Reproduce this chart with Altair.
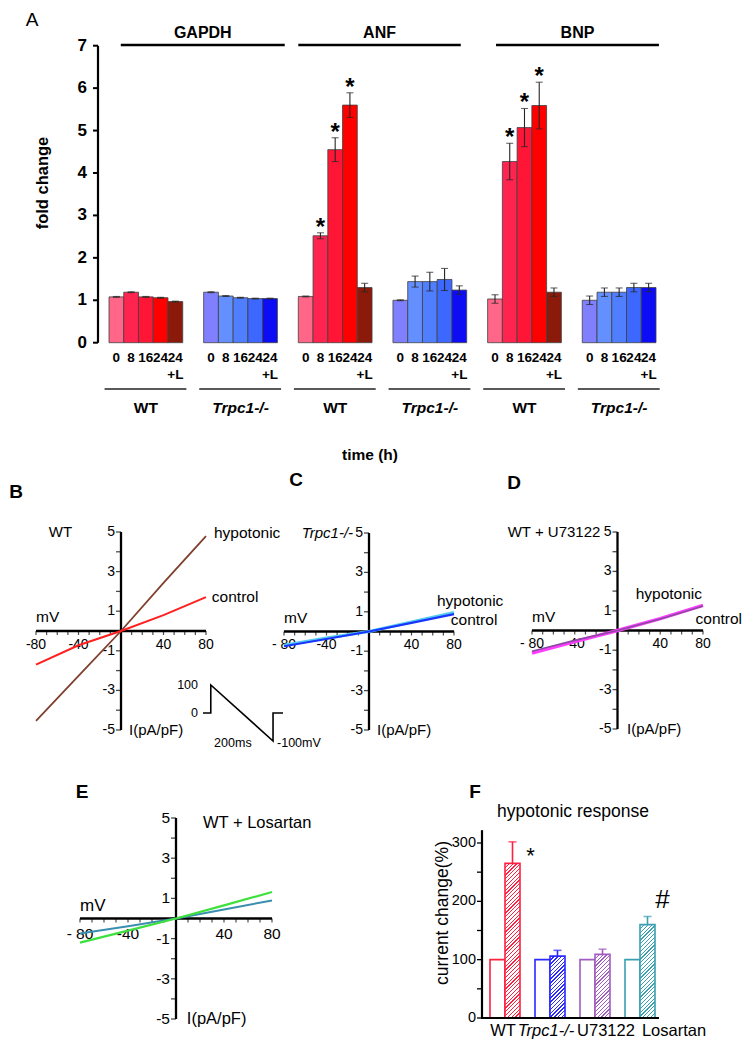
import altair as alt
import pandas as pd

OX, OY = 8, 8
W, H = 739, 1034
FONT = "Liberation Sans"


def px(v):
    return v - OX


def py(v):
    return v - OY


def lin(domain, rng):
    return alt.Scale(domain=domain, range=rng, nice=False, zero=False)


# ------------------------------------------------------------------ data
# Panel A : fold change of GAPDH / ANF / BNP
genes = ["GAPDH", "ANF", "BNP"]
genotypes = ["WT", "Trpc1-/-"]
times = ["0", "8", "16", "24", "24+L"]

gapdh_wt = [1.08, 1.19, 1.08, 1.06, 0.97]
gapdh_wt_err = [0.01, 0.01, 0.01, 0.01, 0.01]
gapdh_ko = [1.19, 1.10, 1.06, 1.04, 1.04]
gapdh_ko_err = [0.01, 0.01, 0.01, 0.01, 0.01]
anf_wt = [1.09, 2.52, 4.55, 5.60, 1.30]
anf_wt_err = [0.01, 0.07, 0.28, 0.29, 0.10]
anf_ko = [1.00, 1.44, 1.44, 1.49, 1.24]
anf_ko_err = [0.01, 0.13, 0.22, 0.26, 0.10]
bnp_wt = [1.03, 4.27, 5.07, 5.59, 1.19]
bnp_wt_err = [0.10, 0.43, 0.45, 0.55, 0.10]
bnp_ko = [1.00, 1.19, 1.19, 1.30, 1.30]
bnp_ko_err = [0.10, 0.10, 0.10, 0.10, 0.10]
sig_anf_wt = [0, 1, 1, 1, 0]
sig_bnp_wt = [0, 1, 1, 1, 0]

# Panels B-E : I-V curves, sampled at these voltages (mV)
mv_points = [-80, -40, 0, 40, 80]
b_hypotonic = [-4.54, -2.27, 0, 2.43, 4.79]
b_control = [-1.70, -0.72, 0, 0.80, 1.71]
c_hypotonic = [-0.70, -0.33, 0, 0.48, 0.97]
c_control = [-0.75, -0.38, 0, 0.44, 0.88]
d_hypotonic = [-1.15, -0.56, 0, 0.60, 1.28]
d_control = [-1.05, -0.50, 0, 0.58, 1.24]
e_hypotonic = [-1.20, -0.60, 0, 0.65, 1.32]
e_control = [-0.75, -0.38, 0, 0.45, 0.90]

# voltage protocol (inset of B)
proto_ms = [-25, 0, 0, 200, 200, 232]
proto_mv = [0, 0, 100, -100, 0, 0]

# Panel F : hypotonic response
groups_f = ["WT", "Trpc1-/-", "U73122", "Losartan"]
control_pct = [100, 100, 100, 100]
hypo_pct = [265, 106, 109, 160]
hypo_err = [37, 10, 9, 14]

# ------------------------------------------------------------------ styles
wt_colors = ["#ff6688", "#ff2450", "#ff1535", "#ff0000", "#8c1a0a"]
ko_colors = ["#8080ff", "#6490ff", "#4f7fff", "#3d68ff", "#0c0cf5"]
f_colors = ["#ff2040", "#2a2aff", "#a05cc0", "#3aa0b0"]

layers = []


def note(text, x, y, size, weight="normal", style="normal", angle=0,
         align="center", baseline="middle", color="black"):
    return alt.Chart(pd.DataFrame({"txt": [text]})).mark_text(
        font=FONT, fontSize=size, fontWeight=weight, fontStyle=style,
        angle=angle, align=align, baseline=baseline, color=color
    ).encode(x=alt.value(px(x)), y=alt.value(py(y)), text="txt:N")


# ------------------------------------------------------------------ panel A
GAP = 1.42
STEP = 5 + GAP
SPAN = 5 * STEP + 5
AX = lin([0, SPAN], [px(109), px(656)])
AY = lin([0, 7], [py(342.7), py(45.7)])

series_a = {
    ("GAPDH", "WT"): (gapdh_wt, gapdh_wt_err, [0] * 5),
    ("GAPDH", "Trpc1-/-"): (gapdh_ko, gapdh_ko_err, [0] * 5),
    ("ANF", "WT"): (anf_wt, anf_wt_err, sig_anf_wt),
    ("ANF", "Trpc1-/-"): (anf_ko, anf_ko_err, [0] * 5),
    ("BNP", "WT"): (bnp_wt, bnp_wt_err, sig_bnp_wt),
    ("BNP", "Trpc1-/-"): (bnp_ko, bnp_ko_err, [0] * 5),
}
rows, grows = [], []
for gi, gene in enumerate(genes):
    for ki, geno in enumerate(genotypes):
        g = gi * 2 + ki
        vals, errs, sig = series_a[(gene, geno)]
        for i, tm in enumerate(times):
            x0 = g * STEP + i
            rows.append(dict(gene=gene, geno=geno, tm=tm, key=f"{geno}|{tm}",
                             value=vals[i], lo=vals[i] - errs[i],
                             hi=vals[i] + errs[i], x0=x0, x1=x0 + 1,
                             xc=x0 + 0.5, star=sig[i], base=0,
                             tl=tm.replace("+L", "")))
        grows.append(dict(geno=geno, us=g * STEP - 0.3, ue=g * STEP + 5.25,
                          gc=g * STEP + 2.5))
dfA = pd.DataFrame(rows)
dfG = pd.DataFrame(grows)
keys = [f"WT|{tm}" for tm in times] + [f"Trpc1-/-|{tm}" for tm in times]

xA = alt.X("x0:Q", scale=AX, axis=None)
layers.append(alt.Chart(dfA).mark_rect(stroke="#404040", strokeWidth=0.8).encode(
    x=xA, x2="x1:Q",
    y=alt.Y("value:Q", scale=AY, axis=None), y2="base:Q",
    fill=alt.Fill("key:N", scale=alt.Scale(domain=keys, range=wt_colors + ko_colors),
                  legend=None)))
layers.append(alt.Chart(dfA).mark_rule(color="#262626", strokeWidth=1.1).encode(
    x=alt.X("xc:Q", scale=AX, axis=None),
    y=alt.Y("lo:Q", scale=AY, axis=None), y2="hi:Q"))
capsA = pd.concat([dfA[["xc"]].assign(yv=dfA["lo"]), dfA[["xc"]].assign(yv=dfA["hi"])])
layers.append(alt.Chart(capsA).mark_tick(orient="horizontal", size=7, thickness=1.1,
                                         color="#262626").encode(
    x=alt.X("xc:Q", scale=AX, axis=None), y=alt.Y("yv:Q", scale=AY, axis=None)))
layers.append(alt.Chart(dfA[dfA["star"] == 1]).mark_text(
    text="*", font=FONT, fontSize=24, fontWeight="bold", baseline="alphabetic", dy=2
).encode(x=alt.X("xc:Q", scale=AX, axis=None), y=alt.Y("hi:Q", scale=AY, axis=None)))

# y axis of A
layers.append(alt.Chart(pd.DataFrame({"lo": [0], "hi": [7]})).mark_rule(
    color="black", strokeWidth=2.2).encode(
    x=alt.value(px(98)), y=alt.Y("lo:Q", scale=AY, axis=None), y2="hi:Q"))
ticksA = pd.DataFrame({"v": list(range(8)), "lbl": [str(v) for v in range(8)]})
layers.append(alt.Chart(ticksA).mark_rule(color="black", strokeWidth=2).encode(
    x=alt.value(px(93)), x2=alt.value(px(98)), y=alt.Y("v:Q", scale=AY, axis=None)))
layers.append(alt.Chart(ticksA).mark_text(
    font=FONT, fontSize=17, fontWeight="bold", align="right", baseline="middle").encode(
    x=alt.value(px(87)), y=alt.Y("v:Q", scale=AY, axis=None), text="lbl:N"))

# gene headers
hdr_pad = [(0.8, 0.5), (0.0, -0.4), (0.57, 0.2)]
hdr = []
for gi, gene in enumerate(genes):
    s = (gi * 2) * STEP + hdr_pad[gi][0]
    e = (gi * 2 + 1) * STEP + 5 + hdr_pad[gi][1]
    hdr.append(dict(gene=gene, hs=s, he=e, hc=(s + e) / 2))
dfH = pd.DataFrame(hdr)
layers.append(alt.Chart(dfH).mark_rule(color="black", strokeWidth=2.6).encode(
    x=alt.X("hs:Q", scale=AX, axis=None), x2="he:Q", y=alt.value(py(45))))
layers.append(alt.Chart(dfH).mark_text(font=FONT, fontSize=16, fontWeight="bold").encode(
    x=alt.X("hc:Q", scale=AX, axis=None), y=alt.value(py(32.5)), text="gene:N"))

# time tick labels
layers.append(alt.Chart(dfA).mark_text(font=FONT, fontSize=13.5, fontWeight="bold").encode(
    x=alt.X("xc:Q", scale=AX, axis=None), y=alt.value(py(358)), text="tl:N"))
layers.append(alt.Chart(dfA[dfA["tm"] == "24+L"]).mark_text(
    font=FONT, fontSize=13.5, fontWeight="bold", text="+L").encode(
    x=alt.X("xc:Q", scale=AX, axis=None), y=alt.value(py(375))))
layers.append(alt.Chart(dfG).mark_rule(color="#222222", strokeWidth=1.4).encode(
    x=alt.X("us:Q", scale=AX, axis=None), x2="ue:Q", y=alt.value(py(389))))
layers.append(alt.Chart(dfG[dfG["geno"] == "WT"]).mark_text(
    font=FONT, fontSize=15.5, fontWeight="bold").encode(
    x=alt.X("gc:Q", scale=AX, axis=None), y=alt.value(py(408)), text="geno:N"))
layers.append(alt.Chart(dfG[dfG["geno"] != "WT"]).mark_text(
    font=FONT, fontSize=15.5, fontWeight="bold", fontStyle="italic").encode(
    x=alt.X("gc:Q", scale=AX, axis=None), y=alt.value(py(408)), text="geno:N"))

layers.append(note("A", 32, 20, 19))
layers.append(note("fold change", 43, 183, 16.5, weight="bold", angle=270))
layers.append(note("time (h)", 370, 455, 15.5, weight="bold"))


# ------------------------------------------------------------------ I-V panels
def iv_panel(cfg):
    xs = lin([-80, 80], [px(cfg["x0"]), px(cfg["x1"])])
    ys = lin([-5, 5], [py(cfg["yb"]), py(cfg["yt"])])

    def X(f):
        return alt.X(f, scale=xs, axis=None)

    def Y(f):
        return alt.Y(f, scale=ys, axis=None)

    out = []
    ax = pd.DataFrame({"a": [-80], "b": [80], "lo": [-5], "hi": [5], "z": [0]})
    out.append(alt.Chart(ax).mark_rule(color="black", strokeWidth=2.3).encode(
        x=X("a:Q"), x2="b:Q", y=Y("z:Q")))
    out.append(alt.Chart(ax).mark_rule(color="black", strokeWidth=2.3).encode(
        x=X("z:Q"), y=Y("lo:Q"), y2="hi:Q"))
    yt = pd.DataFrame({"v": list(range(-5, 6)), "z": 0})
    out.append(alt.Chart(yt).mark_tick(orient="horizontal", size=5, thickness=1.3,
                                       xOffset=-2.5, color="black").encode(
        x=X("z:Q"), y=Y("v:Q")))
    xt = pd.DataFrame({"v": list(range(-80, 81, 10)), "z": 0})
    out.append(alt.Chart(xt).mark_tick(orient="vertical", size=4, thickness=1.2,
                                       yOffset=2, color="black").encode(
        x=X("v:Q"), y=Y("z:Q")))
    yl = pd.DataFrame({"v": [5, 3, 1, -1, -3, -5], "z": 0,
                       "lbl": ["5", "3", "1", "-1", "-3", "-5"]})
    out.append(alt.Chart(yl).mark_text(font=FONT, fontSize=cfg["fs"], align="right",
                                       baseline="middle", dx=-6).encode(
        x=X("z:Q"), y=Y("v:Q"), text="lbl:N"))
    xl = pd.DataFrame({"v": [-80, -40, 40, 80], "z": 0, "lbl": cfg["xlabels"]})
    out.append(alt.Chart(xl).mark_text(font=FONT, fontSize=cfg["fs"], align="center",
                                       baseline="middle", dy=cfg["fs"] - 0.5).encode(
        x=X("v:Q"), y=Y("z:Q"), text="lbl:N"))
    for vals, color, width in cfg["traces"]:
        d = pd.DataFrame({"mV": mv_points, "I": vals})
        out.append(alt.Chart(d).mark_line(color=color, strokeWidth=width).encode(
            x=X("mV:Q"), y=Y("I:Q")))
    for txt, x, y, align, style, size in cfg["notes"]:
        d = pd.DataFrame({"txt": [txt], "x": [x], "y": [y]})
        out.append(alt.Chart(d).mark_text(font=FONT, fontSize=size, align=align,
                                          fontStyle=style, baseline="middle").encode(
            x=X("x:Q"), y=Y("y:Q"), text="txt:N"))
    return out


fsB = 14
panels = [
    dict(x0=36, x1=206, yt=532, yb=730, fs=fsB, xlabels=["-80", "-40", "40", "80"],
         traces=[(b_hypotonic, "#80402f", 1.8), (b_control, "#ff1f1f", 2.0)],
         notes=[("mV", -80, 0.7, "left", "normal", 15.5),
                ("I(pA/pF)", 7.5, -5, "left", "normal", 15),
                ("WT", -57, 5, "center", "normal", 15),
                ("hypotonic", 87.5, 4.95, "left", "normal", 15.5),
                ("control", 85.5, 1.72, "left", "normal", 15.5)]),
    dict(x0=284, x1=454, yt=533, yb=730, fs=fsB, xlabels=["- 80", "-40", "40", "80"],
         traces=[(c_hypotonic, "#55ccee", 3.0), (c_control, "#1a35ff", 2.2)],
         notes=[("mV", -80, 0.7, "left", "normal", 15.5),
                ("I(pA/pF)", 7.5, -5, "left", "normal", 15),
                ("Trpc1-/-", -15, 5, "right", "italic", 15),
                ("hypotonic", 64, 1.57, "left", "normal", 15.5),
                ("control", 77, 0.6, "left", "normal", 15.5)]),
    dict(x0=532, x1=703, yt=532, yb=729, fs=fsB, xlabels=["- 80", "-40", "40", "80"],
         traces=[(d_hypotonic, "#ff3cff", 3.4), (d_control, "#8a4aa0", 1.6)],
         notes=[("mV", -80, 0.7, "left", "normal", 15.5),
                ("I(pA/pF)", 9, -5, "left", "normal", 15),
                ("WT + U73122", -16, 5, "right", "normal", 15),
                ("hypotonic", 17, 1.83, "left", "normal", 15.5),
                ("control", 73, 0.6, "left", "normal", 15.5)]),
    dict(x0=80, x1=272, yt=818, yb=1019, fs=15.5, xlabels=["- 80", "-40", "40", "80"],
         traces=[(e_control, "#3a8fb0", 2.0), (e_hypotonic, "#3ee03e", 2.2)],
         notes=[("mV", -80, 0.6, "left", "normal", 17),
                ("I(pA/pF)", 9, -5, "left", "normal", 16.5),
                ("WT + Losartan", 22.5, 4.75, "left", "normal", 16.5)]),
]
for cfg in panels:
    layers.extend(iv_panel(cfg))

# voltage protocol inset
PX = lin([-25, 232], [px(203), px(283)])
PY = lin([-100, 100], [py(741), py(685)])
dfP = pd.DataFrame({"ms": proto_ms, "mv": proto_mv, "k": list(range(len(proto_ms)))})
layers.append(alt.Chart(dfP).mark_line(color="black", strokeWidth=1.6).encode(
    x=alt.X("ms:Q", scale=PX, axis=None), y=alt.Y("mv:Q", scale=PY, axis=None),
    order="k:Q"))
protoLbl = pd.DataFrame({"txt": ["100", "0"], "x": [-25, -25], "y": [100, 0]})
layers.append(alt.Chart(protoLbl).mark_text(font=FONT, fontSize=12.5, align="right",
                                           baseline="middle", dx=-5).encode(
    x=alt.X("x:Q", scale=PX, axis=None), y=alt.Y("y:Q", scale=PY, axis=None), text="txt:N"))
layers.append(alt.Chart(pd.DataFrame({"txt": ["200ms"], "x": [71], "y": [-100]})).mark_text(
    font=FONT, fontSize=12.5, baseline="middle", dy=2).encode(
    x=alt.X("x:Q", scale=PX, axis=None), y=alt.Y("y:Q", scale=PY, axis=None), text="txt:N"))
layers.append(alt.Chart(pd.DataFrame({"txt": ["-100mV"], "x": [200], "y": [-100]})).mark_text(
    font=FONT, fontSize=12.5, align="left", baseline="middle", dx=4, dy=2).encode(
    x=alt.X("x:Q", scale=PX, axis=None), y=alt.Y("y:Q", scale=PY, axis=None), text="txt:N"))

layers.append(note("B", 16, 492, 19, weight="bold"))
layers.append(note("C", 296, 480, 19, weight="bold"))
layers.append(note("D", 514, 483, 19, weight="bold"))
layers.append(note("E", 82, 792, 19, weight="bold"))

# ------------------------------------------------------------------ panel F
F_LEFT, F_RIGHT = 490, 655
F_BOT, F_TOP = 1018, 843
FX = lin([0, 11], [px(F_LEFT), px(F_RIGHT)])
FY = lin([0, 300], [py(F_BOT), py(F_TOP)])
slot_px = (F_RIGHT - F_LEFT) / 11
unit_px = (F_BOT - F_TOP) / 300

dfF = pd.DataFrame({
    "grp": groups_f,
    "ctrl": control_pct, "hyp": hypo_pct,
    "top": [h + e for h, e in zip(hypo_pct, hypo_err)],
    "c0": [3 * g for g in range(4)], "c1": [3 * g + 1 for g in range(4)],
    "h1": [3 * g + 2 for g in range(4)], "hc": [3 * g + 1.5 for g in range(4)],
    "gc": [3 * g + 1 for g in range(4)], "base": 0,
})
fstroke = alt.Scale(domain=groups_f, range=f_colors)


def hatch(color, w, h, period=3.8, duty=0.33):
    n = (w + h) / period
    stops = []
    k = 0
    while k < n:
        a = k / n
        b = min((k + duty) / n, 1.0)
        c = min((k + 1) / n, 1.0)
        stops += [{"offset": a, "color": color}, {"offset": b, "color": color},
                  {"offset": b, "color": "#ffffff"}, {"offset": c, "color": "#ffffff"}]
        k += 1
    d = w * w + h * h
    return {"gradient": "linear", "x1": 0, "y1": 0,
            "x2": w * (w + h) / d, "y2": h * (w + h) / d, "stops": stops}


layers.append(alt.Chart(dfF).mark_rect(fill="white", strokeWidth=1.6).encode(
    x=alt.X("c0:Q", scale=FX, axis=None), x2="c1:Q",
    y=alt.Y("ctrl:Q", scale=FY, axis=None), y2="base:Q",
    stroke=alt.Stroke("grp:N", scale=fstroke, legend=None)))
for gi, grp in enumerate(groups_f):
    sub = dfF[dfF["grp"] == grp]
    layers.append(alt.Chart(sub).mark_rect(
        fill=hatch(f_colors[gi], slot_px, hypo_pct[gi] * unit_px),
        stroke=f_colors[gi], strokeWidth=1.6).encode(
        x=alt.X("c1:Q", scale=FX, axis=None), x2="h1:Q",
        y=alt.Y("hyp:Q", scale=FY, axis=None), y2="base:Q"))
layers.append(alt.Chart(dfF).mark_rule(strokeWidth=1.6).encode(
    x=alt.X("hc:Q", scale=FX, axis=None),
    y=alt.Y("hyp:Q", scale=FY, axis=None), y2="top:Q",
    color=alt.Color("grp:N", scale=fstroke, legend=None)))
layers.append(alt.Chart(dfF).mark_tick(orient="horizontal", size=8, thickness=1.6).encode(
    x=alt.X("hc:Q", scale=FX, axis=None), y=alt.Y("top:Q", scale=FY, axis=None),
    color=alt.Color("grp:N", scale=fstroke, legend=None)))

# F axes
layers.append(alt.Chart(pd.DataFrame({"lo": [0], "hi": [322]})).mark_rule(
    color="black", strokeWidth=2.2).encode(
    x=alt.value(px(482)), y=alt.Y("lo:Q", scale=FY, axis=None), y2="hi:Q"))
layers.append(alt.Chart(pd.DataFrame({"lo": [0]})).mark_rule(
    color="black", strokeWidth=2.2).encode(
    x=alt.value(px(481)), x2=alt.value(px(659)), y=alt.Y("lo:Q", scale=FY, axis=None)))
ticksF = pd.DataFrame({"v": list(range(0, 301, 50))})
layers.append(alt.Chart(ticksF).mark_rule(color="black", strokeWidth=1.3).encode(
    x=alt.value(px(477)), x2=alt.value(px(482)), y=alt.Y("v:Q", scale=FY, axis=None)))
lblF = pd.DataFrame({"v": [0, 100, 200, 300], "lbl": ["0", "100", "200", "300"]})
layers.append(alt.Chart(lblF).mark_text(font=FONT, fontSize=14.5, align="right",
                                        baseline="middle").encode(
    x=alt.value(px(476)), y=alt.Y("v:Q", scale=FY, axis=None), text="lbl:N"))

# group labels of F (crowded, as in the original)
f_label_dx = [-2, -4, 11, 34]
for gi, grp in enumerate(groups_f):
    layers.append(alt.Chart(dfF[dfF["grp"] == grp]).mark_text(
        font=FONT, fontSize=16.5, dx=f_label_dx[gi], baseline="middle",
        fontStyle="italic" if grp == "Trpc1-/-" else "normal").encode(
        x=alt.X("gc:Q", scale=FX, axis=None), y=alt.value(py(1031)), text="grp:N"))

# significance marks
layers.append(alt.Chart(dfF[dfF["grp"] == "WT"]).mark_text(
    text="*", font=FONT, fontSize=22, baseline="alphabetic", dx=18, dy=21).encode(
    x=alt.X("hc:Q", scale=FX, axis=None), y=alt.Y("top:Q", scale=FY, axis=None)))
layers.append(alt.Chart(dfF[dfF["grp"] == "Losartan"]).mark_text(
    text="#", font=FONT, fontSize=26, baseline="alphabetic", dx=15, dy=-9).encode(
    x=alt.X("hc:Q", scale=FX, axis=None), y=alt.Y("top:Q", scale=FY, axis=None)))

layers.append(note("F", 475, 792, 19, weight="bold"))
layers.append(note("hypotonic response", 573, 812, 17.5))
layers.append(note("current change(%)", 443, 913, 17.5, angle=270))

chart = alt.layer(*layers).properties(
    width=W, height=H, padding=0,
    autosize=alt.AutoSizeParams(type="none"),
).resolve_scale(
    x="independent", y="independent", color="independent",
    fill="independent", stroke="independent",
).configure_view(stroke=None)

chart.save("out.html", embed_options={"renderer": "svg", "actions": False})
